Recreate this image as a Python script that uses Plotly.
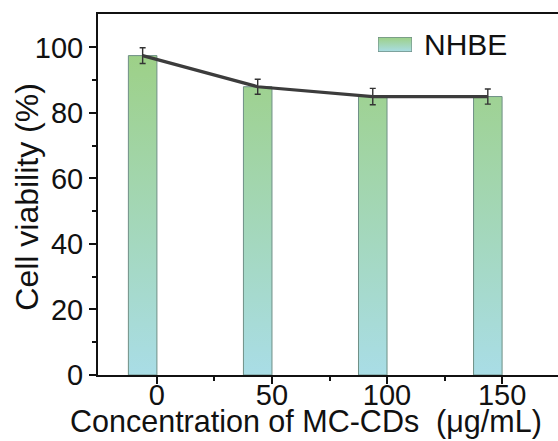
import plotly.graph_objects as go

# Cell viability of NHBE cells after MC-CD exposure
concentrations = [0, 50, 100, 150]          # µg/mL
viability = [97.5, 88.0, 85.0, 85.0]         # %
viability_err = [2.4, 2.3, 2.5, 2.3]         # % (SD)
series_name = "NHBE"

BAR_W = 12.4   # bar width in x-axis units; bars sit just left of each tick
FONT = "Liberation Sans, Arial, sans-serif"
GRAD = [[0.0, "#a9dde6"], [1.0, "#9dd085"]]
EDGE = "#6f8f86"

fig = go.Figure()

# Gradient-filled bars (one closed polygon per bar)
for c, v in zip(concentrations, viability):
    x0, x1 = c - BAR_W, c
    fig.add_trace(go.Scatter(
        x=[x0, x1, x1, x0, x0],
        y=[0, 0, v, v, 0],
        mode="lines",
        fill="toself",
        fillgradient=dict(type="vertical", colorscale=GRAD, start=0, stop=100),
        line=dict(color=EDGE, width=1),
        showlegend=False,
        hoverinfo="skip",
    ))

# Mean line with error bars through bar centres
centres = [c - BAR_W / 2 for c in concentrations]
fig.add_trace(go.Scatter(
    x=centres,
    y=viability,
    mode="lines",
    line=dict(color="#3c3c3c", width=3.2),
    error_y=dict(type="data", array=viability_err, color="#333333",
                 thickness=1.4, width=3),
    showlegend=False,
))

# Legend swatch drawn on its own small unit axes
fig.add_trace(go.Scatter(
    x=[0, 1, 1, 0, 0], y=[0, 0, 1, 1, 0],
    xaxis="x2", yaxis="y2",
    mode="lines", fill="toself",
    fillgradient=dict(type="vertical", colorscale=GRAD, start=0, stop=1),
    line=dict(color=EDGE, width=1.2),
    showlegend=False, hoverinfo="skip",
))

tick_style = dict(ticks="outside", ticklen=7, tickwidth=2, tickcolor="#111111",
                  showline=True, linecolor="#111111", linewidth=2,
                  showgrid=False, zeroline=False,
                  tickfont=dict(size=29, family=FONT, color="#111111"))

fig.update_layout(
    width=558, height=441,
    margin=dict(l=98, r=0, t=14, b=66),
    paper_bgcolor="white",
    plot_bgcolor="white",
    font=dict(family=FONT, color="#111111", size=29),
    showlegend=False,
    xaxis=dict(
        range=[-25.6, 174.3],
        tickvals=concentrations,
        ticktext=[str(c) for c in concentrations],
        minor=dict(tickvals=[25, 75, 125], ticks="outside", ticklen=4,
                   tickwidth=2, tickcolor="#111111"),
        mirror=True,
        ticklabelstandoff=-14,
        **tick_style,
    ),
    yaxis=dict(
        range=[0, 110.2],
        tickvals=[0, 20, 40, 60, 80, 100],
        minor=dict(tickvals=[10, 30, 50, 70, 90], ticks="outside",
                   ticklen=4, tickwidth=2, tickcolor="#111111"),
        **tick_style,
    ),
    xaxis2=dict(domain=[0.6087, 0.6826], range=[0, 1], anchor="y2",
                visible=False, fixedrange=True),
    yaxis2=dict(domain=[0.895, 0.936], range=[0, 1], anchor="x2",
                visible=False, fixedrange=True),
    annotations=[
        dict(text=series_name, xref="paper", yref="paper",
             x=(422 - 98) / 460, y=0.9155, xanchor="left", yanchor="middle",
             showarrow=False, font=dict(size=30, family=FONT)),
        dict(text="Cell viability (%)", textangle=-90,
             xref="paper", yref="paper", x=-0.155, y=0.493,
             xanchor="center", yanchor="middle", showarrow=False,
             font=dict(size=32, family=FONT)),
        dict(text="Concentration of MC-CDs  (\u03bcg/mL)",
             xref="paper", yref="paper", x=0.453, y=-0.075,
             xanchor="center", yanchor="top", showarrow=False,
             font=dict(size=30.5, family=FONT)),
    ],
)

fig.write_html("out.html")
